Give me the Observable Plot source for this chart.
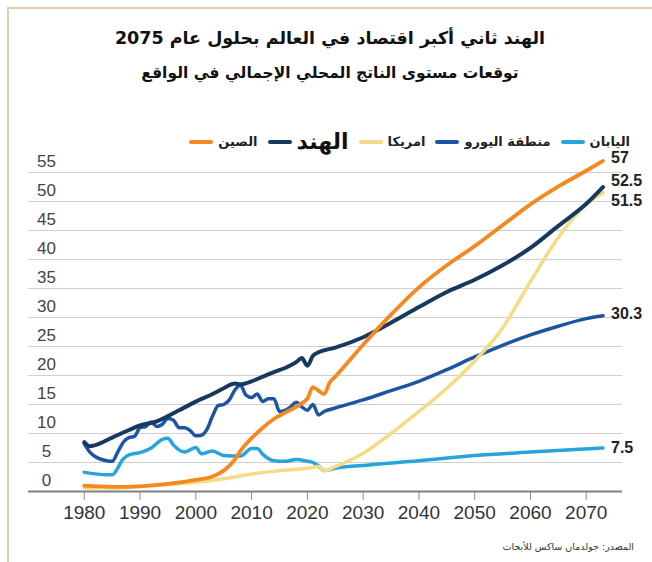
<!DOCTYPE html>
<html><head><meta charset="utf-8">
<script src="https://cdn.jsdelivr.net/npm/d3@7"></script>
<script src="https://cdn.jsdelivr.net/npm/@observablehq/plot@0.6"></script>
<style>
body{margin:0;background:#fff;}
#wrap{position:relative;width:652px;height:562px;overflow:hidden;font-family:"DejaVu Sans",sans-serif;background:#fff;}
#frame{position:absolute;left:7px;top:7px;width:700px;height:600px;border-left:2px solid #dcd0ab;border-top:2px solid #dcd0ab;}
#title{position:absolute;top:28px;left:0;width:660px;text-align:center;direction:rtl;font-weight:bold;font-size:17.5px;color:#111;}
#subtitle{position:absolute;top:64px;left:0;width:660px;text-align:center;direction:rtl;font-weight:bold;font-size:15.5px;color:#111;}
#legend{position:absolute;top:129px;right:22px;display:flex;flex-direction:row;direction:rtl;align-items:center;gap:10px;font-size:13px;font-weight:bold;color:#222;}
#legend .item{display:flex;align-items:center;gap:5px;}
#legend .sw{width:24px;height:4px;border-radius:2px;}
#chart{position:absolute;left:0;top:145px;}
#source{position:absolute;top:541px;right:18px;direction:rtl;font-size:9.5px;color:#333;}
</style></head>
<body><div id="wrap">
<div id="frame"></div>
<div id="title"></div>
<div id="subtitle"></div>
<div id="legend"></div>
<div id="chart"></div>
<div id="source"></div>
</div>
<script>
const titleText = "الهند ثاني أكبر اقتصاد في العالم بحلول عام 2075";
const subtitleText = "توقعات مستوى الناتج المحلي الإجمالي في الواقع";
const sourceText = "المصدر: جولدمان ساكس للأبحاث";

const xTicks = [1980,1990,2000,2010,2020,2030,2040,2050,2060,2070];
const yTicks = [0,5,10,15,20,25,30,35,40,45,50,55];

const seriesNames = ["اليابان","منطقة اليورو","امريكا","الهند","الصين"];
const seriesColors = ["#29a3dc","#1d55a5","#f3dc85","#163a5f","#f5891f"];

const chinaYears = [1980,1985,1990,1995,2000,2003,2005,2007,2008,2010,2012,2014,2016,2018,2019,2020,2021,2022,2023,2024,2025,2030,2035,2040,2045,2050,2055,2060,2065,2070,2073];
const chinaValues = [1.0,0.8,0.9,1.3,2.0,2.6,3.6,5.5,7.0,9.2,11.0,12.5,13.6,14.6,15.2,16.0,18.0,17.4,16.8,18.8,19.8,25.3,30.5,35.2,39.0,42.3,45.9,49.5,52.6,55.3,57];

const indiaYears = [1980,1981,1982,1985,1988,1990,1993,1995,1997,2000,2003,2005,2007,2008,2010,2012,2014,2016,2018,2019,2020,2021,2022,2025,2030,2035,2040,2045,2050,2055,2060,2065,2070,2073];
const indiaValues = [8.5,7.8,8.0,9.3,10.6,11.4,12.1,13.0,14.0,15.5,16.8,17.8,18.6,18.5,19.0,19.8,20.6,21.3,22.3,23.0,21.7,23.4,24.0,24.8,26.6,29.1,31.8,34.4,36.5,39.0,42.0,45.8,49.6,52.5];

const usYears = [1980,1985,1990,1995,2000,2005,2010,2015,2020,2022,2023,2025,2030,2035,2040,2045,2050,2055,2060,2065,2070,2073];
const usValues = [0.6,0.6,0.9,1.2,1.6,2.2,3.0,3.6,4.0,4.3,3.6,4.3,6.6,10.0,13.8,17.8,22.5,28.2,36.2,43.8,49.5,51.5];

const euroYears = [1980,1981,1982,1984,1985,1986,1987,1988,1989,1990,1991,1992,1993,1994,1995,1996,1997,1998,1999,2000,2001,2002,2003,2004,2005,2006,2007,2008,2009,2010,2011,2012,2013,2014,2015,2016,2017,2018,2019,2020,2021,2022,2023,2025,2030,2035,2040,2045,2050,2055,2060,2065,2070,2073];
const euroValues = [8.2,6.8,6.0,5.3,5.2,6.8,8.5,9.3,9.5,11.0,11.2,12.0,11.2,11.6,12.6,12.3,11.0,11.0,10.5,9.6,9.7,10.7,13.0,14.8,15.0,15.8,17.5,18.3,16.6,16.2,16.8,15.5,16.0,16.0,13.8,14.0,14.6,15.4,14.6,14.0,15.0,13.2,13.8,14.4,15.8,17.4,19.0,21.0,23.2,25.2,27.0,28.5,29.8,30.3];

const japanYears = [1980,1984,1985,1987,1988,1990,1992,1994,1995,1996,1998,2000,2001,2003,2005,2008,2010,2011,2012,2014,2016,2018,2020,2021,2022,2023,2025,2030,2040,2050,2060,2073];
const japanValues = [3.3,2.9,2.9,5.6,6.3,6.7,7.5,9.0,9.2,8.0,6.8,7.6,6.5,7.0,6.2,6.1,7.4,7.4,6.4,5.3,5.2,5.5,5.2,5.0,4.4,3.6,4.0,4.5,5.3,6.2,6.8,7.5];

const endLabels = ["7.5","30.3","51.5","52.5","57"];
const endLabelDy = [0,-2,8,-6,-3];

const seriesYears = [japanYears, euroYears, usYears, indiaYears, chinaYears];
const seriesValues = [japanValues, euroValues, usValues, indiaValues, chinaValues];
const seriesWidths = [3.5,3.5,3.5,4,3.8];

document.getElementById("title").textContent = titleText;
document.getElementById("subtitle").textContent = subtitleText;
document.getElementById("source").textContent = sourceText;

const legend = document.getElementById("legend");
seriesNames.forEach((n,i) => {
  const it = document.createElement("div"); it.className = "item";
  const t = document.createElement("span"); t.textContent = n;
  if (i === 3) { t.style.fontSize = "22px"; t.style.fontWeight = "bold"; t.style.color = "#111"; }
  const s = document.createElement("span"); s.className = "sw"; s.style.background = seriesColors[i];
  it.appendChild(t); it.appendChild(s); legend.appendChild(it);
});

const marks = [
  Plot.gridY(yTicks, {stroke:"#cfcfcf", strokeOpacity:1, strokeWidth:1}),
  Plot.text(yTicks, {y: d => d, text: d => String(d), frameAnchor:"left", dx:18, dy:-11, textAnchor:"middle", fontSize:17, fill:"#444", fontFamily:"Liberation Sans, Arial, sans-serif"}),
  Plot.ruleY([0], {stroke:"#808080", strokeWidth:2.2}),
  Plot.axisX(xTicks, {tickFormat: d => String(d), tickSize:9, tickPadding:5, stroke:"#8a8a8a", fill:"#333", fontSize:19, fontFamily:"Liberation Sans Narrow, Arial Narrow, sans-serif", label:null})
];
seriesNames.forEach((n,i) => {
  const pts = seriesYears[i].map((yr,j) => ({year: yr, value: seriesValues[i][j]}));
  marks.push(Plot.line(pts, {x:"year", y:"value", stroke: seriesColors[i], strokeWidth: seriesWidths[i], curve:"monotone-x", strokeLinecap:"round", strokeLinejoin:"round"}));
});
const ends = seriesNames.map((n,i) => ({year: seriesYears[i][seriesYears[i].length-1], value: seriesValues[i][seriesValues[i].length-1], label: endLabels[i], dy: endLabelDy[i]}));
ends.forEach(e => marks.push(Plot.text([e], {x:"year", y:"value", text:"label", dx:8, dy:e.dy, textAnchor:"start", fontSize:16, fontWeight:"bold", fill:"#222", fontFamily:"Liberation Sans Narrow, Arial Narrow, sans-serif"})));

const plot = Plot.plot({
  width: 652, height: 390,
  marginLeft: 28, marginRight: 30, marginTop: 27, marginBottom: 44,
  x: {domain:[1970, 2076.5], axis: null},
  y: {domain:[0,55], axis: null},
  style: {background:"transparent", overflow:"visible"},
  marks
});
document.getElementById("chart").appendChild(plot);
</script>
</body></html>
